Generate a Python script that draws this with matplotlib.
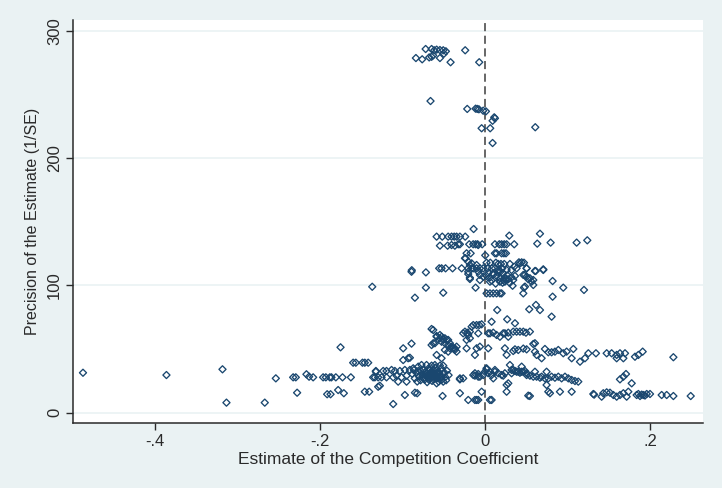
import numpy as np
import matplotlib
matplotlib.use("Agg")
import matplotlib.pyplot as plt

# Competition coefficient estimates (x) and their precision 1/SE (y), grouped by band
est_top = [-0.0718, -0.0646, -0.0614, -0.0585, -0.0545, -0.0505, -0.0473, -0.0239,
           -0.0836, -0.0760, -0.0675, -0.0646, -0.0627, -0.0545, -0.0497, -0.0416, -0.0069]
prec_top = [285.9, 285.9, 284.9, 285.4, 285.1, 284.9, 284.1, 284.9,
            278.8, 277.8, 279.3, 279.8, 280.9, 278.8, 282.2, 275.5, 275.5]

est_upper = [-0.0659, -0.0214, -0.0113, -0.0093, -0.0073, -0.0021, 0.0012, 0.0113,
             0.0121, 0.0093, -0.0040, 0.0064, 0.0610, 0.0093]
prec_upper = [245.0, 238.8, 239.0, 238.8, 238.5, 237.4, 236.9, 232.2,
              231.4, 229.5, 223.6, 223.6, 224.4, 212.0]

est_mid_high = [-0.0137, 0.0667, 0.0295,
                -0.0585, -0.0517, -0.0445, -0.0404, -0.0372, -0.0343, -0.0303, -0.0239,
                -0.0545, -0.0452, -0.0364, -0.0323, -0.0303, -0.0190, -0.0142, -0.0113,
                -0.0089, -0.0033, 0.0121, 0.0174, 0.0202, 0.0234, 0.0263, 0.0355,
                0.0634, 0.0796, 0.1111, 0.1240, -0.0404, -0.0081,
                0.0121, 0.0141, 0.0202, 0.0230, 0.0255, 0.0004, -0.0173, -0.0222]
prec_mid_high = [144.4, 140.7, 139.2,
                 138.4, 138.4, 138.4, 138.4, 138.4, 138.4, 138.4, 138.4,
                 131.3, 131.3, 131.3, 132.4, 132.4, 132.4, 132.4, 132.4,
                 132.4, 132.4, 132.4, 132.4, 132.4, 132.4, 132.4, 132.4,
                 132.9, 133.7, 133.7, 135.5, 131.8, 131.8,
                 125.3, 125.3, 125.3, 125.3, 125.3, 123.7, 125.3, 125.3]

est_mid = [-0.0234, -0.0202, -0.0161, -0.0242, -0.0182, -0.0141, -0.0202, -0.0182, -0.0101, -0.0081,
           0.0020, 0.0065, 0.0133, 0.0161, 0.0194, 0.0234, 0.0303, 0.0355, 0.0412, 0.0445, 0.0473,
           0.0424, 0.0505, 0.0606, 0.0707,
           -0.0889, -0.0886, -0.0715, -0.0554, -0.0525, -0.0477, -0.0392, -0.0282, -0.0202, -0.0161,
           -0.0101, -0.0061, -0.0020, 0.0032, 0.0085, 0.0121, 0.0162, 0.0210, 0.0263, 0.0323,
           0.0384, 0.0505, 0.0615, 0.0707,
           -0.0061, -0.0020, 0.0020, 0.0061, 0.0101, 0.0141, 0.0182, 0.0222, 0.0242, 0.0283,
           0.0323, 0.0364, -0.0061, 0.0061, 0.0182, 0.0214, 0.0242, -0.0182, -0.0202, 0.0485,
           0.0525, 0.0566, 0.0586, 0.0343,
           0.0465, 0.0505, 0.0545, 0.0586, 0.0485, 0.0335, 0.0820, 0.0949, 0.1200,
           -0.0715, -0.0505, -0.0848, -0.0113, 0.0020, 0.0061, 0.0101, 0.0141, 0.0182, 0.0202,
           0.0473, 0.0465, 0.0820, -0.1365,
           0.0040, 0.0100, 0.0160, 0.0220, 0.0270, 0.0300, 0.0130, 0.0250, 0.0190, 0.0080]
prec_mid = [121.4, 118.7, 117.4, 121.4, 116.1, 113.5, 110.8, 106.1, 116.1, 110.8,
            117.9, 117.9, 117.9, 116.9, 116.9, 116.9, 116.9, 114.8, 118.2, 118.2, 117.9,
            117.4, 113.5, 111.4, 112.7,
            110.8, 112.0, 110.3, 113.5, 113.5, 113.5, 113.5, 113.5, 113.5, 113.5,
            113.5, 113.5, 113.5, 113.5, 113.5, 113.5, 112.2, 113.5, 112.2, 112.2,
            113.5, 113.5, 111.4, 112.2,
            108.3, 106.9, 107.5, 106.4, 108.3, 107.5, 105.6, 104.3, 106.4, 104.9,
            106.4, 107.5, 104.3, 103.0, 103.0, 102.2, 103.0, 105.1, 109.0, 108.3,
            104.9, 103.0, 100.4, 104.3,
            108.3, 106.9, 105.7, 104.3, 99.1, 99.8, 103.5, 98.3, 96.5,
            98.3, 94.3, 90.4, 98.3, 93.8, 93.8, 93.8, 93.8, 93.8, 93.8,
            98.3, 93.8, 91.2, 99.0,
            110.0, 109.5, 110.5, 109.8, 108.0, 102.0, 101.5, 105.0, 111.0, 104.0]

est_mid_low = [0.0149, 0.0537, 0.0618, 0.0667, 0.0808, 0.0270, 0.0364, 0.0081,
               -0.0626, -0.0646, -0.0141, -0.0101, -0.0069, -0.0161, -0.0040,
               -0.0182, -0.0242, -0.0214, -0.0263, -0.0202, -0.0081, -0.0182, -0.0222,
               0.0061, 0.0101, 0.0141, 0.0182, 0.0242, 0.0283, 0.0040,
               0.0222, 0.0283, 0.0343, 0.0384, 0.0424, 0.0465, 0.0497, 0.0545, 0.0606]
prec_mid_low = [80.7, 81.3, 84.7, 80.7, 75.5, 73.4, 70.3, 71.5,
                65.0, 65.8, 68.9, 68.9, 68.9, 67.6, 69.5,
                63.7, 63.7, 62.9, 62.4, 61.1, 62.4, 58.5, 57.2,
                62.4, 62.9, 61.1, 59.7, 62.4, 59.7, 62.4,
                62.4, 62.9, 63.7, 63.7, 63.7, 63.7, 62.9, 63.7, 54.6]

est_band50 = [-0.0585, -0.0545, -0.0505, -0.0464, -0.0525, -0.0485, -0.0445, -0.0404, -0.0364,
              -0.0626, -0.0424, -0.0525, -0.0485, -0.0445, -0.0424, -0.0364, -0.0343, -0.0384,
              -0.0343, -0.0545, -0.0585, -0.0606, -0.0646, -0.0445, -0.0485,
              -0.0889, -0.0990, -0.1749, -0.0585, -0.0525, -0.0990, -0.0930, -0.0909,
              -0.0222, -0.0101, 0.0040, -0.0121, -0.0061,
              0.0242, 0.0364, 0.0465, 0.0505, 0.0263, 0.0343, 0.0404,
              0.0586, 0.0606, 0.0626, 0.0687, 0.0727, 0.0768, 0.0808, 0.0848, 0.0889,
              0.0949, 0.0990, 0.1051, 0.1071, 0.1152, 0.1212, 0.1253,
              0.1345, 0.1475, 0.1535, 0.1596, 0.1636, 0.1697, 0.1596, 0.1677,
              0.1818, 0.1859, 0.1911, 0.2283]
prec_band50 = [59.7, 58.5, 57.7, 57.2, 55.8, 54.6, 53.2, 51.9, 50.6,
               54.6, 50.6, 59.7, 58.5, 57.2, 54.6, 49.3, 48.0, 50.6,
               51.9, 61.1, 60.3, 54.6, 53.2, 48.0, 49.3,
               54.3, 50.6, 51.4, 45.4, 42.8, 41.4, 42.8, 43.2,
               50.6, 50.6, 50.6, 45.4, 51.9,
               50.6, 49.8, 50.4, 49.8, 45.4, 48.5, 49.3,
               54.0, 48.0, 45.4, 42.8, 50.1, 47.5, 47.5, 48.0, 49.3,
               46.7, 48.0, 42.8, 50.1, 40.1, 42.8, 46.7,
               46.7, 46.7, 46.7, 45.4, 46.7, 46.7, 42.8, 42.8,
               44.0, 45.4, 48.0, 43.6]

est_low_left = [-0.4869, -0.3858, -0.3179, -0.3131, -0.2667, -0.2533, -0.2323, -0.2291,
                -0.2275, -0.2162, -0.2130, -0.2081, -0.1960, -0.1927, -0.1879, -0.1859,
                -0.1806, -0.1725, -0.1624, -0.1911, -0.1870, -0.1778, -0.1709,
                -0.1596, -0.1564, -0.1483, -0.1455, -0.1414, -0.1455, -0.1402,
                -0.1321, -0.1333, -0.1293]
prec_low_left = [31.4, 29.6, 34.1, 7.9, 7.9, 27.0, 27.8, 27.8,
                 15.7, 30.2, 28.3, 27.8, 27.8, 27.8, 27.8, 27.8,
                 27.8, 27.8, 27.8, 14.5, 14.5, 17.8, 15.3,
                 39.3, 39.3, 39.3, 39.3, 39.3, 16.5, 16.5,
                 32.2, 27.8, 20.4]

est_low_mid = [-0.1321, -0.1232, -0.1192, -0.1131, -0.1091, -0.1030, -0.0970, -0.0909,
               -0.1354, -0.1293, -0.1252, -0.1192, -0.1111, -0.1070, -0.1010, -0.0949,
               -0.1051, -0.0949, -0.1273, -0.1111, -0.0970, -0.0848, -0.0820, -0.0513,
               -0.0303, -0.0202, -0.0121, -0.0101,
               -0.0869, -0.0808, -0.0768, -0.0707, -0.0646, -0.0606, -0.0545, -0.0505,
               -0.0808, -0.0748, -0.0667, -0.0585, -0.0505,
               -0.0880, -0.0850, -0.0830, -0.0800, -0.0780, -0.0760, -0.0740, -0.0720,
               -0.0700, -0.0680, -0.0660, -0.0640, -0.0620, -0.0600, -0.0580, -0.0560,
               -0.0540, -0.0520, -0.0500, -0.0480, -0.0460, -0.0740, -0.0680, -0.0600,
               -0.0820, -0.0700, -0.0640, -0.0560, -0.0470, -0.0440, -0.0860, -0.0780,
               -0.0720, -0.0660, -0.0620, -0.0580, -0.0303, -0.0263, -0.0303,
               -0.0710, -0.0690, -0.0670, -0.0650, -0.0630, -0.0610, -0.0590, -0.0570,
               -0.0550, -0.0530, -0.0760, -0.0730, -0.0690, -0.0650, -0.0610, -0.0570,
               -0.0530, -0.0490]
prec_low_mid = [32.8, 32.8, 32.8, 33.6, 32.8, 32.8, 33.6, 33.6,
                27.8, 27.8, 27.8, 27.8, 27.8, 29.1, 27.8, 29.1,
                24.4, 24.4, 21.2, 6.8, 13.9, 15.7, 15.3, 13.1,
                15.3, 10.0, 10.0, 10.0,
                34.9, 36.2, 37.5, 37.5, 37.0, 37.5, 37.0, 37.0,
                32.8, 33.6, 33.6, 23.1, 24.4,
                30.5, 27.0, 31.5, 28.5, 25.5, 30.0, 27.0, 32.0,
                29.0, 26.0, 31.0, 28.0, 33.0, 30.0, 27.0, 32.0,
                29.0, 26.0, 31.0, 28.0, 33.0, 34.0, 35.0, 35.5,
                24.5, 24.0, 25.0, 24.5, 25.5, 29.5, 33.5, 33.0,
                29.5, 28.5, 30.5, 31.5, 27.0, 27.0, 26.2,
                31.0, 27.5, 33.5, 30.0, 26.5, 29.0, 33.0, 28.5,
                31.0, 34.5, 28.0, 26.0, 30.0, 32.5, 27.5, 30.5,
                28.0, 31.5]

est_low_right = [-0.0141, -0.0121, -0.0081, -0.0061, -0.0020, 0.0000, 0.0020, 0.0040,
                 0.0081, 0.0101, 0.0121, 0.0161, 0.0202, 0.0242, 0.0283,
                 0.0343, 0.0384, 0.0424, 0.0465, 0.0505, 0.0323,
                 0.0020, 0.0061, 0.0121, -0.0081, -0.0121, 0.0222,
                 0.0303, 0.0445, 0.0323, 0.0364, 0.0404, 0.0445, 0.0485, 0.0505, 0.0545,
                 0.0586, 0.0626, 0.0667, 0.0606, 0.0687, 0.0727, 0.0747, 0.0768, 0.0808,
                 0.0848, 0.0889, 0.0929, 0.0970, 0.1010, 0.1051, 0.1091, 0.1131,
                 0.0747, 0.0768, 0.0788, 0.0909, 0.1051, 0.0525, 0.0263, 0.0263,
                 -0.0040, 0.0061, -0.0081, 0.0545, 0.0081]
prec_low_right = [29.6, 31.0, 30.4, 28.3, 29.6, 32.2, 34.1, 31.0,
                  29.6, 27.0, 32.2, 31.0, 29.6, 31.0, 23.1,
                  33.6, 32.2, 31.4, 32.2, 31.0, 31.0,
                  34.9, 32.2, 33.6, 28.3, 29.1, 29.1,
                  37.5, 36.2, 33.6, 32.8, 32.2, 32.2, 32.8, 29.6, 29.1,
                  28.3, 28.3, 27.5, 32.2, 28.3, 27.0, 32.2, 27.0, 28.3,
                  27.5, 28.3, 27.0, 28.3, 27.0, 25.7, 24.9, 24.4,
                  21.8, 16.5, 15.3, 16.5, 16.5, 13.4, 21.8, 16.5,
                  16.5, 10.0, 10.0, 13.1, 10.0]

est_far_right = [0.1709, 0.1677, 0.1636, 0.1778,
                 0.1313, 0.1434, 0.1475, 0.1515, 0.1414, 0.1556, 0.1596, 0.1636, 0.1677,
                 0.1717, 0.1737, 0.1838, 0.1879, 0.1919, 0.1960, 0.2000, 0.2141, 0.2202,
                 0.2283, 0.2493, 0.1859, 0.1899, 0.1939, 0.1323]
prec_far_right = [30.4, 28.3, 26.2, 23.1,
                  14.7, 15.3, 16.0, 15.7, 12.6, 13.9, 12.6, 13.9, 15.3,
                  12.6, 16.5, 13.9, 13.1, 13.9, 14.7, 14.7, 13.9, 13.9,
                  13.1, 13.1, 14.7, 14.2, 13.5, 14.2]

x_ticks = [-0.4, -0.2, 0.0, 0.2]
x_tick_labels = ["-.4", "-.2", "0", ".2"]
y_ticks = [0, 100, 200, 300]
y_tick_labels = ["0", "100", "200", "300"]

estimates = np.concatenate([est_top, est_upper, est_mid_high, est_mid, est_mid_low,
                            est_band50, est_low_left, est_low_mid, est_low_right, est_far_right])
precision = np.concatenate([prec_top, prec_upper, prec_mid_high, prec_mid, prec_mid_low,
                            prec_band50, prec_low_left, prec_low_mid, prec_low_right, prec_far_right])

plt.rcParams["font.family"] = ["Liberation Sans", "DejaVu Sans"]

bg = "#EAF2F3"
navy = "#1A476F"
ink = "#2a2a2a"

fig = plt.figure(figsize=(7.22, 4.88), dpi=100, facecolor=bg)
ax = fig.add_axes([0.1011, 0.1332, 0.8726, 0.8258])
ax.set_facecolor("white")

ax.set_xlim(-0.499, 0.2642)
ax.set_ylim(-8.1, 308.7)

for yv in y_ticks:
    ax.axhline(yv, color=bg, lw=1.2, zorder=1)

ax.axvline(0, color="#5a5a5a", lw=1.3, ls=(0, (4.5, 2.5)), zorder=2)

ax.scatter(estimates, precision, marker="D", s=13, facecolors="none",
           edgecolors=navy, linewidths=0.95, zorder=3)

for side in ("top", "right"):
    ax.spines[side].set_visible(False)
for side in ("left", "bottom"):
    ax.spines[side].set_color(ink)
    ax.spines[side].set_linewidth(1.1)

ax.set_xticks(x_ticks)
ax.set_xticklabels(x_tick_labels, fontsize=12, color=ink)
ax.set_yticks(y_ticks)
ax.set_yticklabels(y_tick_labels, fontsize=12, rotation=90, va="center", color=ink)
ax.tick_params(axis="both", direction="out", length=5, width=1, color=ink, pad=3)

ax.set_xlabel("Estimate of the Competition Coefficient", fontsize=12.5, labelpad=2, color=ink)
ax.set_ylabel("Precision of the Estimate (1/SE)", fontsize=11.5, labelpad=5, color=ink)

fig.savefig("out.png", dpi=100, facecolor=bg)
